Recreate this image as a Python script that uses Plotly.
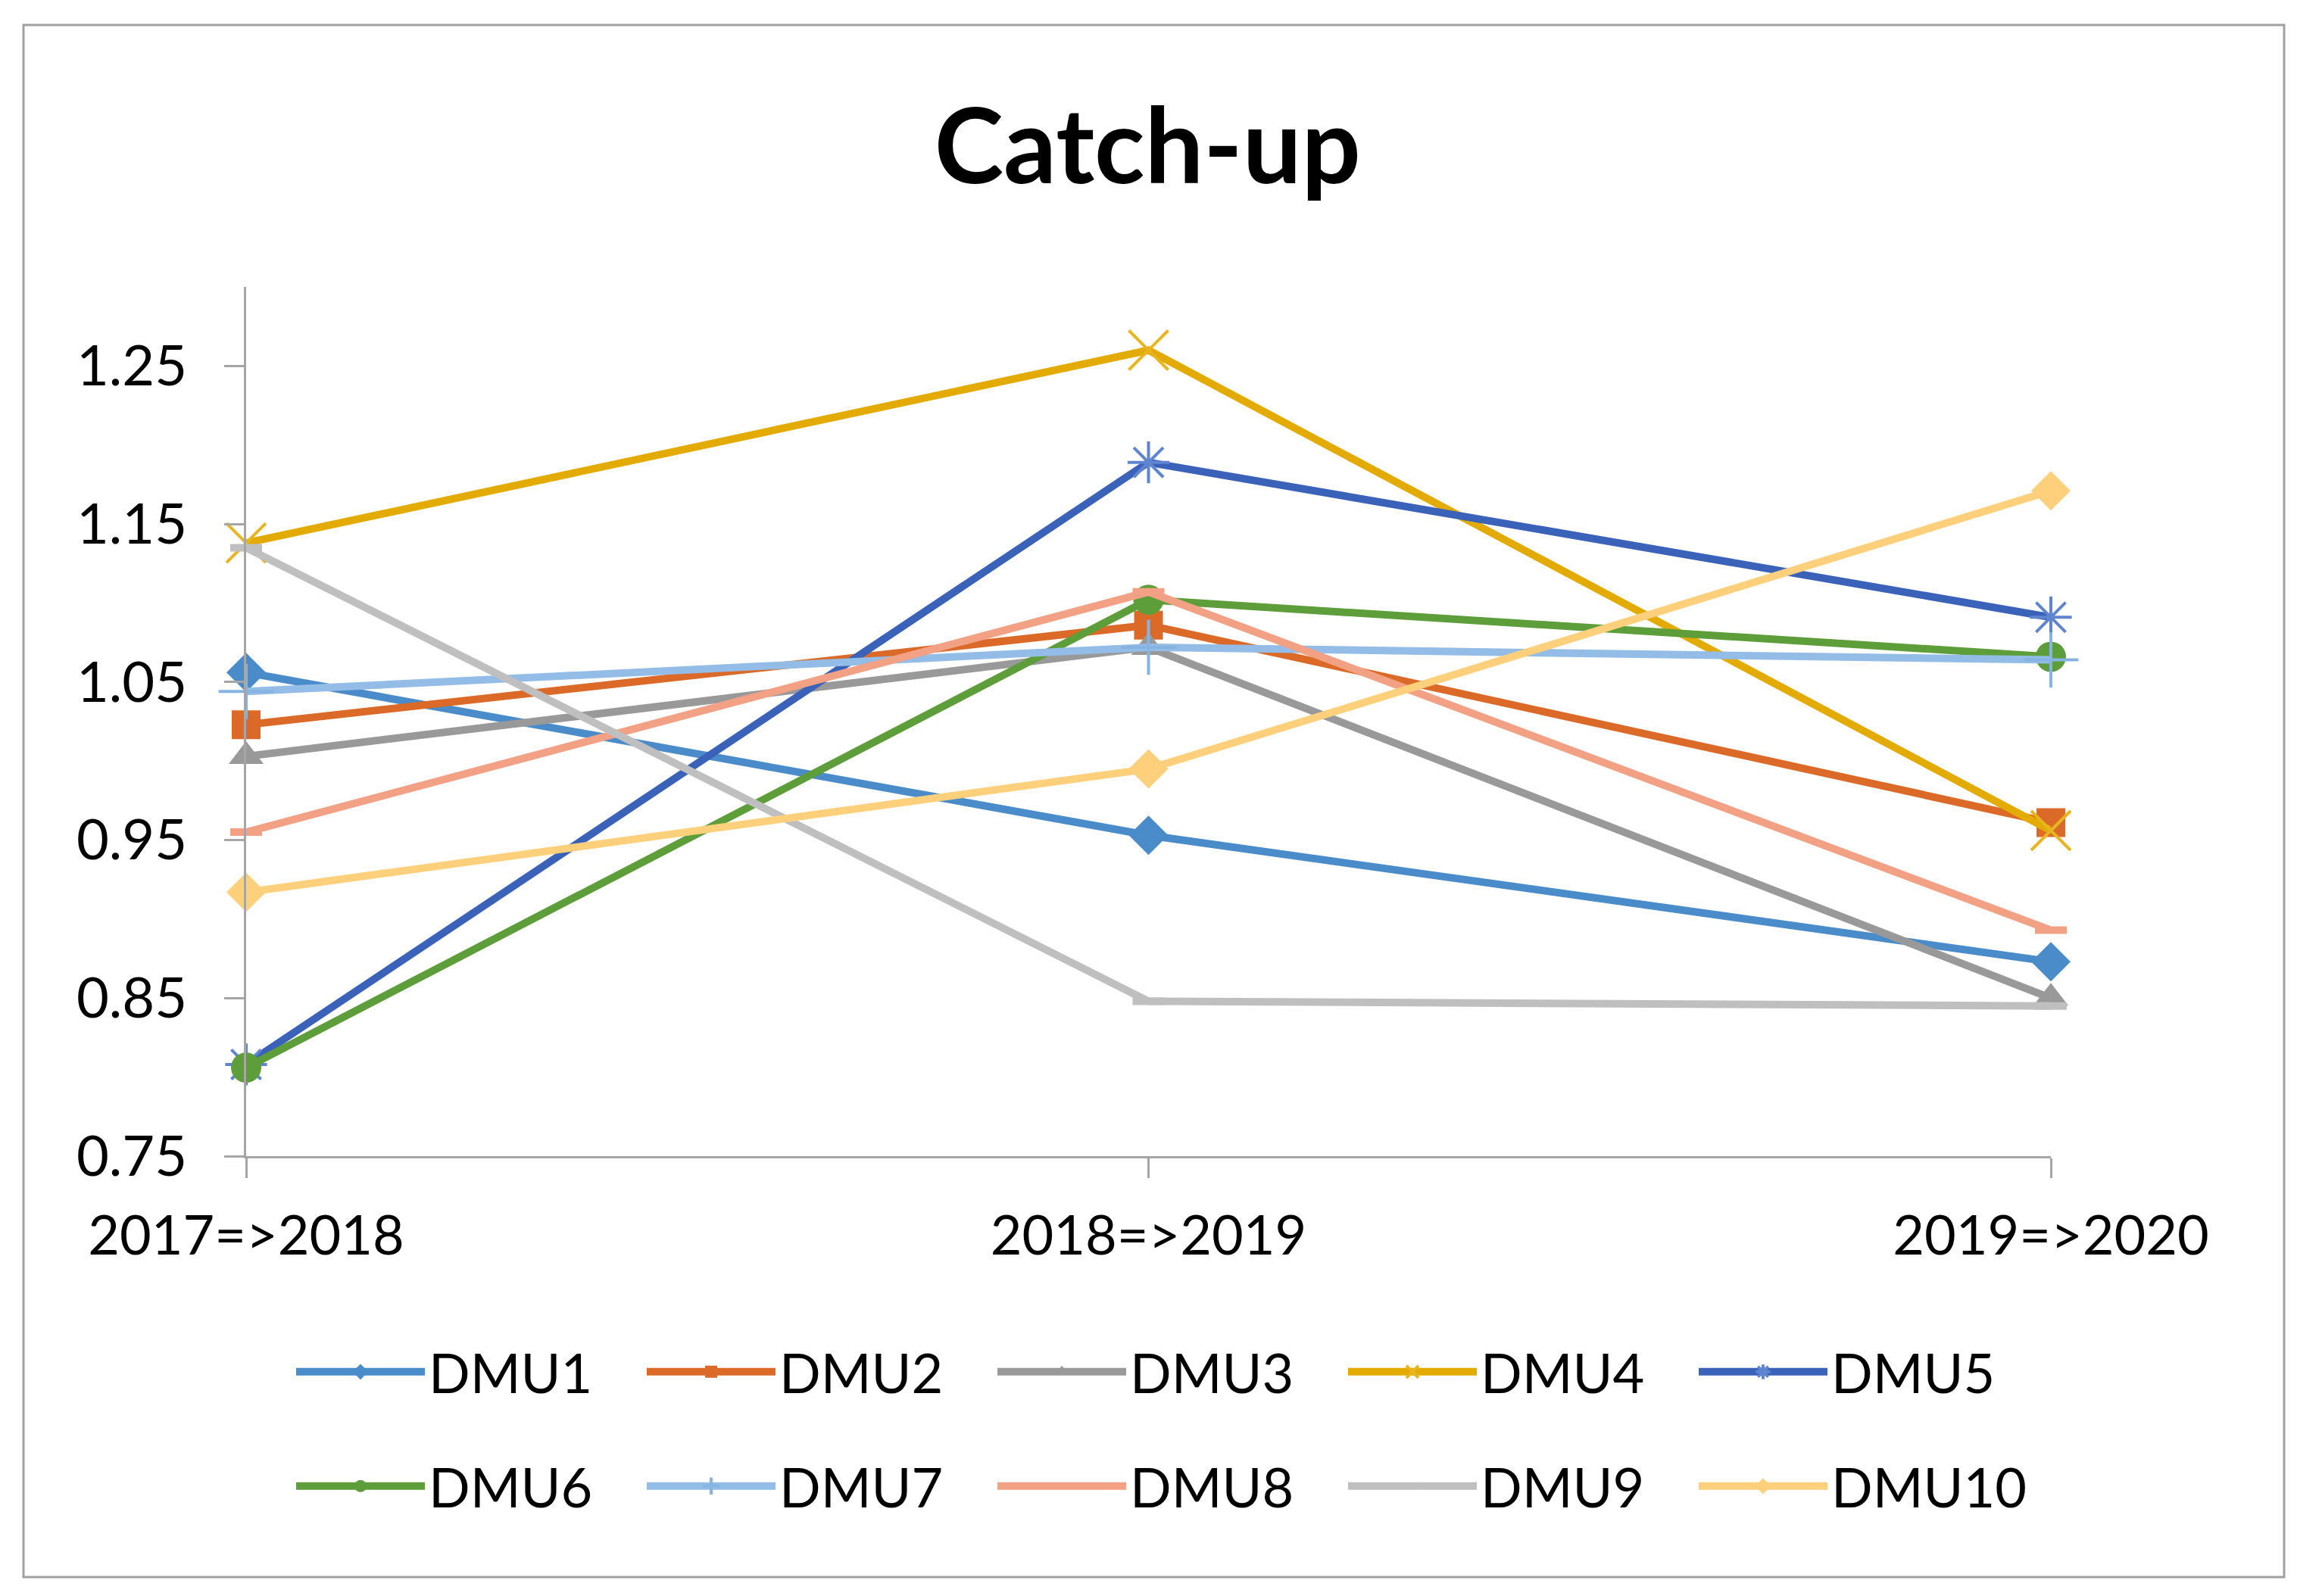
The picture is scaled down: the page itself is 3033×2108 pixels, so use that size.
import plotly.graph_objects as go

categories = ["2017=>2018", "2018=>2019", "2019=>2020"]
series_names = ["DMU1", "DMU2", "DMU3", "DMU4", "DMU5", "DMU6", "DMU7", "DMU8", "DMU9", "DMU10"]

dmu1 = [1.056, 0.953, 0.873]
dmu2 = [1.023, 1.086, 0.961]
dmu3 = [1.003, 1.072, 0.850]
dmu4 = [1.138, 1.260, 0.956]
dmu5 = [0.808, 1.189, 1.091]
dmu6 = [0.806, 1.102, 1.066]
dmu7 = [1.044, 1.072, 1.064]
dmu8 = [0.955, 1.107, 0.893]
dmu9 = [1.135, 0.848, 0.845]
dmu10 = [0.917, 0.995, 1.171]

values = [dmu1, dmu2, dmu3, dmu4, dmu5, dmu6, dmu7, dmu8, dmu9, dmu10]

y_ticks = [0.75, 0.85, 0.95, 1.05, 1.15, 1.25]
y_tick_labels = ["0.75", "0.85", "0.95", "1.05", "1.15", "1.25"]

colors = ["#4A8BC9", "#DB6A28", "#999999", "#E3AA00", "#3A62B8",
          "#5E9E3A", "#93BCE6", "#F2A184", "#BFBFBF", "#FFD07C"]
marker_cols = ["#4A8BC9", "#DB6A28", "#999999", "#E8B420", "#5F85D0",
               "#5E9E3A", "#86B4E2", "#F2A184", "#BFBFBF", "#FFD07C"]
symbols = ["diamond", "square", "triangle-up", "x-thin-open", "asterisk-open",
           "circle", "cross-thin-open", "line-ew-open", "line-ew-open", "diamond"]
sizes = [40, 38, 40, 52, 46, 40, 52, 30, 30, 40]
mline = [0, 0, 0, 4, 4, 0, 4, 10, 10, 0]

FONT = "Lato, Calibri, Carlito, sans-serif"

fig = go.Figure()
for i, (name, vals) in enumerate(zip(series_names, values)):
    fig.add_trace(go.Scatter(
        x=categories, y=vals, name=name, mode="lines+markers",
        line=dict(color=colors[i], width=10),
        marker=dict(symbol=symbols[i], size=sizes[i], color=marker_cols[i],
                    line=dict(color=marker_cols[i], width=mline[i])),
        cliponaxis=False,
        legend="legend" if i < 5 else "legend2",
    ))

W, H = 3033, 2108
L, R, T, B = 317, 333, 371, 589
pw, ph = W - L - R, H - T - B

def px_x(x):
    return (x - L) / pw

def px_y(y):
    return (H - B - y) / ph

legend_common = dict(
    orientation="h", xanchor="left", yanchor="middle",
    font=dict(family=FONT, size=72, color="#000000"),
    entrywidth=278, entrywidthmode="pixels", itemwidth=170,
    bgcolor="rgba(0,0,0,0)", borderwidth=0, traceorder="normal",
)

fig.update_layout(
    width=W, height=H,
    margin=dict(l=L, r=R, t=T, b=B),
    paper_bgcolor="white", plot_bgcolor="white",
    title=dict(text="<b>Catch-up</b>", x=0.497, xanchor="center", y=1 - 186 / H,
               yanchor="middle", font=dict(family=FONT, size=138, color="#000000")),
    xaxis=dict(
        range=[0, 2], showgrid=False, zeroline=False,
        showline=True, linecolor="#A6A6A6", linewidth=3,
        ticks="outside", ticklen=26, tickwidth=3, tickcolor="#A6A6A6",
        tickfont=dict(family=FONT, size=72, color="#000000"),
        ticklabelstandoff=15,
    ),
    yaxis=dict(
        range=[0.75, 1.30], showgrid=False, zeroline=False,
        showline=True, linecolor="#A6A6A6", linewidth=3,
        tickvals=y_ticks, ticktext=y_tick_labels,
        ticks="outside", ticklen=26, tickwidth=3, tickcolor="#A6A6A6",
        tickfont=dict(family=FONT, size=74, color="#000000"),
        ticklabelstandoff=34,
    ),
    legend=dict(x=px_x(378), y=px_y(1804), **legend_common),
    legend2=dict(x=px_x(378), y=px_y(1955), **legend_common),
    shapes=[dict(type="rect", xref="paper", yref="paper",
                 x0=px_x(23), x1=px_x(3008), y0=px_y(2075), y1=px_y(25),
                 line=dict(color="#A0A0A0", width=3), fillcolor="rgba(0,0,0,0)",
                 layer="below")],
)

fig.write_html("out.html")
